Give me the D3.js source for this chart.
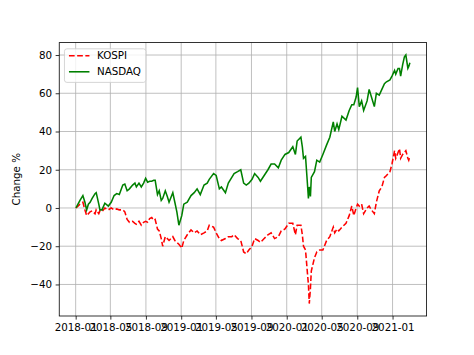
<!DOCTYPE html>
<html>
<head>
<meta charset="utf-8">
<script src="https://cdn.jsdelivr.net/npm/d3@7"></script>
<style>
    body { margin: 0; background: white; }
    #chart { width: 474px; height: 355px; }
    .axis text { font-family: "DejaVu Sans", sans-serif; font-size: 10.3px; fill: black; }
    .axis path, .axis line { stroke: black; stroke-width: 0.8px; }
    .grid line { stroke: #b0b0b0; stroke-width: 0.8px; }
    .label { font-family: "DejaVu Sans", sans-serif; font-size: 10.3px; fill: black; }
</style>
</head>
<body>
<div id="chart"></div>
<script>
// dates of the sampled points
const dates = [
    "2018-01-02","2018-01-09","2018-01-16","2018-01-26","2018-02-02","2018-02-08","2018-02-14","2018-02-20",
    "2018-02-27","2018-03-09","2018-03-13","2018-03-22","2018-03-26","2018-04-02","2018-04-12","2018-04-24",
    "2018-05-04","2018-05-14","2018-05-23","2018-06-01","2018-06-13","2018-06-20","2018-06-28","2018-07-06",
    "2018-07-17","2018-07-25","2018-07-30","2018-08-08","2018-08-16","2018-08-24","2018-08-31","2018-09-07",
    "2018-09-14","2018-09-21","2018-09-28","2018-10-03","2018-10-11","2018-10-17","2018-10-24","2018-10-29",
    "2018-11-07","2018-11-14","2018-11-20","2018-12-03","2018-12-10","2018-12-17","2018-12-24","2019-01-03",
    "2019-01-10","2019-01-22","2019-02-04","2019-02-15","2019-02-25","2019-03-08","2019-03-21","2019-04-01",
    "2019-04-08","2019-04-23","2019-05-02","2019-05-13","2019-05-20","2019-06-03","2019-06-13","2019-06-25",
    "2019-07-03","2019-07-15","2019-07-26","2019-08-05","2019-08-14","2019-08-23","2019-09-03","2019-09-12",
    "2019-09-24","2019-10-02","2019-10-15","2019-10-28","2019-11-08","2019-11-20","2019-12-03","2019-12-13",
    "2019-12-26","2020-01-08","2020-01-22","2020-01-31","2020-02-06","2020-02-19","2020-02-24","2020-02-28",
    "2020-03-06","2020-03-12","2020-03-16","2020-03-19","2020-03-23","2020-03-26","2020-04-06","2020-04-14",
    "2020-04-24","2020-05-05","2020-05-18","2020-05-29","2020-06-10","2020-06-15","2020-06-23","2020-06-29",
    "2020-07-10","2020-07-24","2020-08-04","2020-08-13","2020-08-20","2020-08-28","2020-09-02","2020-09-08",
    "2020-09-16","2020-09-23","2020-10-05","2020-10-12","2020-10-20","2020-10-30","2020-11-06","2020-11-16",
    "2020-11-25","2020-12-04","2020-12-11","2020-12-23","2020-12-30","2021-01-08","2021-01-12","2021-01-20",
    "2021-01-25","2021-01-29","2021-02-05","2021-02-11","2021-02-16","2021-02-23","2021-02-26","2021-03-02"
];

// change % since the first day
const nasdaqValues = [
    0, 2, 4, 6.5, 3, -1, 2, 3,
    5, 7.5, 8, 2, -1, -1, 2.5, 1,
    3, 6.5, 7.5, 7, 12, 12.5, 9, 10,
    12, 13, 11, 13, 11, 13, 15.5, 13.5,
    14, 14, 14.5, 14.5, 7, 9, 4, 5,
    9, 6, 3, 8, 3, -2, -9, -4,
    2, 3, 6.5, 8, 10, 7, 12, 13,
    15, 18, 17, 10, 11, 8, 13, 16,
    18, 19, 20, 13, 12, 13, 15, 18,
    16, 14, 17, 20, 23, 23, 21, 25,
    28, 29, 32, 28, 35, 37, 32, 26,
    27, 14, 5, 11, 6, 16, 19, 25,
    24, 28, 33, 37, 45, 40, 44, 41,
    48, 46, 51, 54, 54, 58, 63, 53,
    56, 51, 56, 62, 58, 53, 60, 59,
    62, 65, 66, 67, 69, 72, 70, 73,
    73, 69, 75, 79, 80, 73, 74, 76
];

const kospiValues = [
    0, 1, 2, 3, -1, -4, -3, -2,
    -1.5, -3, -1, -3, -1.5, -2, 0, -1,
    0, -1, -0.5, -1, -1, -2, -6, -7.5,
    -7, -8, -8.5, -7, -9, -7.5, -7, -7.5,
    -5.5, -5, -6.5, -6, -11, -12, -16, -20,
    -15, -16, -17, -15, -17, -18, -19, -21,
    -17, -14, -11.5, -13, -12, -14, -13, -12,
    -9, -10, -13, -16, -17, -16, -15, -15,
    -14, -16, -17, -23, -24, -22, -20, -16,
    -17, -18, -16, -14, -13, -16, -15, -12,
    -11, -8, -8, -14, -9, -9, -14, -20,
    -22, -33, -40, -50, -42, -33, -26, -23,
    -22, -22, -17, -15, -10, -13, -11, -12,
    -10, -8, -4, 1, -4, 0, 2, 1,
    2, -3, 0, 1, -1, -3, 3, 9,
    11, 16, 17, 19, 23, 30, 26, 29,
    31, 26, 28, 29, 30, 26, 25, 27
];

const seriesNames = ["KOSPI", "NASDAQ"];
const seriesColors = ["#ff0000", "#008000"];
const xTickDates = ["2018-01-01","2018-05-01","2018-09-01","2019-01-01","2019-05-01","2019-09-01",
                    "2020-01-01","2020-05-01","2020-09-01","2021-01-01"];
const yTickValues = [-40, -20, 0, 20, 40, 60, 80];
const yLabel = "Change %";

class changeChart {
    constructor(parentElement) {
        this.parentElement = parentElement;
        this.parseDate = d3.timeParse("%Y-%m-%d");
        this.initVis();
    }
    initVis() {
        let vis = this;

        vis.margin = {top: 42.6, right: 47.4, bottom: 39, left: 59.25};
        vis.width = 474 - vis.margin.left - vis.margin.right;
        vis.height = 355 - vis.margin.top - vis.margin.bottom;

        vis.svg = d3.select("#" + vis.parentElement).append("svg")
            .attr("width", 474)
            .attr("height", 355)
            .append("g")
            .attr("transform", "translate(" + vis.margin.left + "," + vis.margin.top + ")");

        vis.data = dates.map((d, i) => ({
            date: vis.parseDate(d),
            kospi: kospiValues[i],
            nasdaq: nasdaqValues[i]
        }));

        // matplotlib style 5% padding
        let xExt = d3.extent(vis.data, d => d.date);
        let xPad = (xExt[1] - xExt[0]) * 0.05;
        vis.x = d3.scaleTime()
            .range([0, vis.width])
            .domain([new Date(+xExt[0] - xPad), new Date(+xExt[1] + xPad)]);

        let yMin = d3.min(vis.data, d => Math.min(d.kospi, d.nasdaq));
        let yMax = d3.max(vis.data, d => Math.max(d.kospi, d.nasdaq));
        let yPad = (yMax - yMin) * 0.05;
        vis.y = d3.scaleLinear()
            .range([vis.height, 0])
            .domain([yMin - yPad, yMax + yPad]);

        vis.xTicks = xTickDates.map(d => vis.parseDate(d));

        // grid
        vis.svg.append("g").attr("class", "grid")
            .selectAll("line").data(vis.xTicks).enter().append("line")
            .attr("x1", d => vis.x(d)).attr("x2", d => vis.x(d))
            .attr("y1", 0).attr("y2", vis.height);
        vis.svg.append("g").attr("class", "grid")
            .selectAll("line").data(yTickValues).enter().append("line")
            .attr("x1", 0).attr("x2", vis.width)
            .attr("y1", d => vis.y(d)).attr("y2", d => vis.y(d));

        vis.updateVis();
    }
    updateVis() {
        let vis = this;

        vis.kospiLine = d3.line()
            .x(d => vis.x(d.date))
            .y(d => vis.y(d.kospi));
        vis.nasdaqLine = d3.line()
            .x(d => vis.x(d.date))
            .y(d => vis.y(d.nasdaq));

        vis.svg.append("path").datum(vis.data)
            .attr("d", vis.kospiLine)
            .attr("fill", "none")
            .attr("stroke", seriesColors[0])
            .attr("stroke-width", 1.55)
            .attr("stroke-dasharray", "5.7,2.5");

        vis.svg.append("path").datum(vis.data)
            .attr("d", vis.nasdaqLine)
            .attr("fill", "none")
            .attr("stroke", seriesColors[1])
            .attr("stroke-width", 1.55);

        vis.xAxis = d3.axisBottom(vis.x)
            .tickValues(vis.xTicks)
            .tickFormat(d3.timeFormat("%Y-%m"))
            .tickSizeOuter(0)
            .tickSize(3.6)
            .tickPadding(3.6);
        vis.yAxis = d3.axisLeft(vis.y)
            .tickValues(yTickValues)
            .tickFormat(d => d < 0 ? "\u2212" + Math.abs(d) : d)
            .tickSizeOuter(0)
            .tickSize(3.6)
            .tickPadding(3.6);

        let gx = vis.svg.append("g")
            .attr("class", "x-axis axis")
            .attr("transform", "translate(0," + vis.height + ")")
            .call(vis.xAxis);
        gx.select(".domain").remove();
        let gy = vis.svg.append("g")
            .attr("class", "y-axis axis")
            .call(vis.yAxis);
        gy.select(".domain").remove();

        // frame
        vis.svg.append("rect")
            .attr("width", vis.width).attr("height", vis.height)
            .attr("fill", "none").attr("stroke", "black").attr("stroke-width", 0.8);

        vis.svg.append("text")
            .attr("class", "label")
            .attr("transform", "translate(-39," + vis.height / 2 + ") rotate(-90)")
            .attr("text-anchor", "middle")
            .text(yLabel);

        // legend
        let legend = vis.svg.append("g").attr("transform", "translate(5.2,6.2)");
        legend.append("rect")
            .attr("width", 81.4).attr("height", 33.6)
            .attr("rx", 2.5)
            .attr("fill", "white").attr("fill-opacity", 0.8)
            .attr("stroke", "#cccccc").attr("stroke-width", 0.8);
        seriesNames.forEach((name, i) => {
            let yy = 7 + i * 16;
            legend.append("line")
                .attr("x1", 4.5).attr("x2", 25)
                .attr("y1", yy).attr("y2", yy)
                .attr("stroke", seriesColors[i])
                .attr("stroke-width", 1.55)
                .attr("stroke-dasharray", i === 0 ? "5.7,2.5" : null);
            legend.append("text")
                .attr("class", "label")
                .attr("x", 32.5).attr("y", yy)
                .attr("dy", "0.35em")
                .text(name);
        });
    }
}

new changeChart("chart");
</script>
</body>
</html>
